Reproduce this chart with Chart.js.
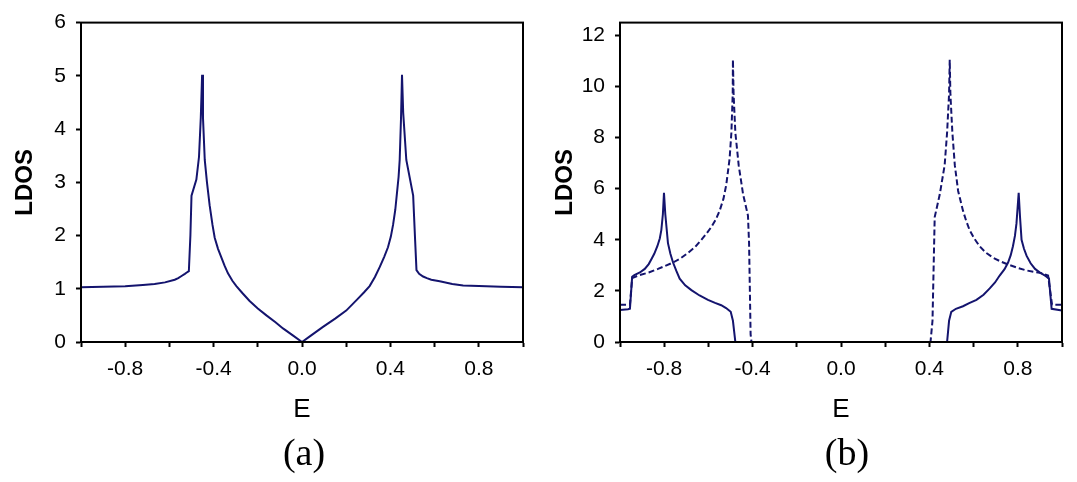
<!DOCTYPE html>
<html>
<head>
<meta charset="utf-8">
<script src="https://cdn.jsdelivr.net/npm/chart.js@4.4.1/dist/chart.umd.min.js"></script>
<style>
  html, body { margin: 0; padding: 0; background: #fff; }
  #wrap { position: relative; width: 1077px; height: 482px; overflow: hidden; }
  canvas { position: absolute; top: 0; }
  .tag { position: absolute; top: 427px; font-family: "Liberation Serif", "DejaVu Serif", serif;
         font-size: 38px; line-height: 50px; color: #000; transform: translateX(-50%); }
</style>
</head>
<body>
<div id="wrap">
  <canvas id="chartA" width="540" height="482" style="left:0"></canvas>
  <canvas id="chartB" width="537" height="482" style="left:540px"></canvas>
  <div class="tag" style="left:304px">(a)</div>
  <div class="tag" style="left:847px">(b)</div>
</div>
<script>
// panel (a)
const E_a = [-1.00, -0.90, -0.80, -0.72, -0.667, -0.62, -0.576, -0.56, -0.545, -0.53, -0.523, -0.512, -0.505, -0.500,
  -0.478, -0.466, -0.458, -0.452, -0.448, -0.440, -0.430, -0.418, -0.405, -0.395, -0.380, -0.365, -0.350,
  -0.335, -0.315, -0.297, -0.270, -0.237, -0.200, -0.161, -0.120, -0.086, -0.040, 0.000,
  0.040, 0.095, 0.150, 0.200, 0.250, 0.280, 0.306, 0.330, 0.352, 0.372, 0.389, 0.402, 0.412, 0.422,
  0.430, 0.437, 0.442, 0.448, 0.4525, 0.458, 0.472, 0.503, 0.512, 0.518, 0.530, 0.548, 0.565, 0.585,
  0.623, 0.680, 0.729, 0.80, 0.90, 1.00];
const LDOS_a = [1.03, 1.04, 1.045, 1.07, 1.09, 1.12, 1.17, 1.20, 1.24, 1.28, 1.30, 1.33, 2.0, 2.75,
  3.05, 3.48, 4.21, 5.02, 4.21, 3.42, 3.0, 2.57, 2.2, 1.96, 1.75, 1.59, 1.43,
  1.29, 1.15, 1.05, 0.92, 0.77, 0.63, 0.50, 0.37, 0.255, 0.12, 0.0,
  0.12, 0.285, 0.44, 0.59, 0.80, 0.93, 1.05, 1.22, 1.41, 1.60, 1.78, 1.98, 2.2, 2.48,
  2.81, 3.1, 3.42, 4.2, 5.02, 4.3, 3.42, 2.75, 1.9, 1.35, 1.28, 1.23, 1.20, 1.17,
  1.14, 1.09, 1.06, 1.05, 1.04, 1.03];
const E_a_zero = [-0.49, 0.49];
const LDOS_a_zero = [0, 0];

// panel (b)
const E_b_solid = [-1.00, -0.964, -0.955, -0.945, -0.935, -0.91, -0.888, -0.870, -0.858, -0.845, -0.831, -0.820,
  -0.813, -0.806, -0.801, -0.795, -0.783, -0.772, -0.760, -0.745, -0.730, -0.705, -0.677, -0.640, -0.602,
  -0.570, -0.542, -0.520, -0.499, -0.489, -0.478, 0.480,
  0.489, 0.499, 0.520, 0.552, 0.580, 0.613, 0.645, 0.673, 0.697, 0.718, 0.740, 0.756, 0.768, 0.778,
  0.787, 0.794, 0.804, 0.810, 0.817, 0.828, 0.840, 0.858, 0.878, 0.900, 0.923, 0.941, 0.953, 1.00];
const LDOS_b_solid = [1.25, 1.28, 1.30, 2.55, 2.62, 2.72, 2.86, 3.05, 3.24, 3.45, 3.75, 4.05,
  4.38, 5.0, 5.84, 5.0, 3.87, 3.45, 3.11, 2.78, 2.48, 2.22, 2.03, 1.82, 1.65,
  1.53, 1.44, 1.33, 1.18, 0.83, 0.0, 0.0,
  0.83, 1.18, 1.30, 1.40, 1.52, 1.65, 1.85, 2.1, 2.33, 2.6, 2.85, 3.11, 3.4, 3.75,
  4.15, 4.64, 5.84, 4.9, 4.0, 3.65, 3.37, 3.08, 2.86, 2.72, 2.6, 2.48, 1.30, 1.23];
const E_b_dash = [-1.00, -0.955, -0.945, -0.918, -0.870, -0.828, -0.795, -0.760, -0.725, -0.692, -0.660, -0.632,
  -0.608, -0.586, -0.566, -0.549, -0.532, -0.519, -0.504, -0.496, -0.490, -0.489, -0.486, -0.478, -0.463,
  -0.443, -0.421, -0.416, -0.409, -0.405,
  0.405, 0.414, 0.424, 0.447, 0.469, 0.480, 0.489, 0.492, 0.495, 0.504, 0.515, 0.530, 0.552,
  0.566, 0.582, 0.603, 0.627, 0.655, 0.688, 0.725, 0.763, 0.800, 0.839, 0.870, 0.899, 0.937, 0.955, 1.00];
const LDOS_b_dash = [1.46, 1.46, 2.5, 2.6, 2.72, 2.86, 2.98, 3.11, 3.28, 3.49, 3.72, 4.0,
  4.25, 4.51, 4.8, 5.14, 5.6, 6.16, 7.18, 8.19, 9.71, 11.05, 9.7, 8.19, 6.92,
  5.78, 4.95, 3.87, 0.3, 0.0,
  0.0, 0.83, 4.89, 5.78, 6.92, 8.19, 9.7, 11.05, 9.7, 8.19, 6.92, 5.91, 5.14,
  4.75, 4.38, 4.05, 3.75, 3.5, 3.3, 3.14, 3.01, 2.9, 2.8, 2.75, 2.71, 2.6, 1.46, 1.46];

const xTickLabels = ['-0.8', '-0.4', '0.0', '0.4', '0.8'];

const LINE = '#14146e';
const TICK_FONT = { family: 'Liberation Sans, Arial, sans-serif', size: 21 };

function pts(xs, ys) {
    return xs.map((x, i) => ({ x: x, y: ys[i] }));
}

// full box round the plot area
const framePlugin = {
    id: 'frame',
    afterDraw(chart) {
        const a = chart.chartArea, ctx = chart.ctx;
        ctx.save();
        ctx.strokeStyle = '#000';
        ctx.lineWidth = 2;
        ctx.strokeRect(a.left, a.top, a.right - a.left, a.bottom - a.top);
        ctx.restore();
    }
};

function makeChart(id, datasets, yMax, yStep, yLabel, pad) {
    return new Chart(document.getElementById(id), {
        type: 'line',
        data: { datasets: datasets },
        plugins: [framePlugin],
        options: {
            responsive: false,
            animation: false,
            layout: { padding: pad },
            plugins: { legend: { display: false }, tooltip: { enabled: false } },
            elements: { point: { radius: 0 }, line: { tension: 0, borderWidth: 2 } },
            scales: {
                x: {
                    type: 'linear', min: -1, max: 1,
                    afterFit: s => { s.height = 140; },
                    border: { color: '#000', width: 2 },
                    grid: { drawOnChartArea: false, drawTicks: true, tickLength: 5, tickColor: '#000', tickWidth: 2 },
                    ticks: {
                        stepSize: 0.2, autoSkip: false, maxRotation: 0, padding: 10,
                        color: '#000', font: TICK_FONT,
                        callback: v => {
                            const s = (Math.round(v * 10) / 10).toFixed(1);
                            return xTickLabels.includes(s) ? s : '';
                        }
                    },
                    title: {
                        display: true, text: 'E', color: '#000',
                        font: { family: 'Liberation Sans, Arial, sans-serif', size: 26 },
                        padding: { top: 0, bottom: 57 }
                    }
                },
                y: {
                    min: 0, max: yMax,
                    afterFit: s => { s.width = pad.yWidth; },
                    border: { color: '#000', width: 2 },
                    grid: { drawOnChartArea: false, drawTicks: true, tickLength: 5, tickColor: '#000', tickWidth: 2 },
                    ticks: {
                        stepSize: yStep / 2, includeBounds: false, padding: 10,
                        color: '#000', font: TICK_FONT,
                        callback: v => (Math.abs(v / yStep - Math.round(v / yStep)) < 1e-6 ? String(v) : '')
                    },
                    title: {
                        display: true, text: yLabel, color: '#000',
                        font: { family: 'Liberation Sans, Arial, sans-serif', size: 24, weight: 'bold' },
                        padding: { top: 11, bottom: 0 }
                    }
                }
            }
        }
    });
}

makeChart('chartA', [
    { data: pts(E_a_zero, LDOS_a_zero), borderColor: LINE },
    { data: pts(E_a, LDOS_a), borderColor: LINE }
], 6, 1, 'LDOS', { left: 0, right: 17, top: 13.5, bottom: 0, yWidth: 81 });

makeChart('chartB', [
    { data: pts(E_b_dash, LDOS_b_dash), borderColor: LINE, borderWidth: 2, borderDash: [6, 3] },
    { data: pts(E_b_solid, LDOS_b_solid), borderColor: LINE }
], 12.5, 2, 'LDOS', { left: 0, right: 15, top: 14, bottom: 0, yWidth: 80 });
</script>
</body>
</html>
